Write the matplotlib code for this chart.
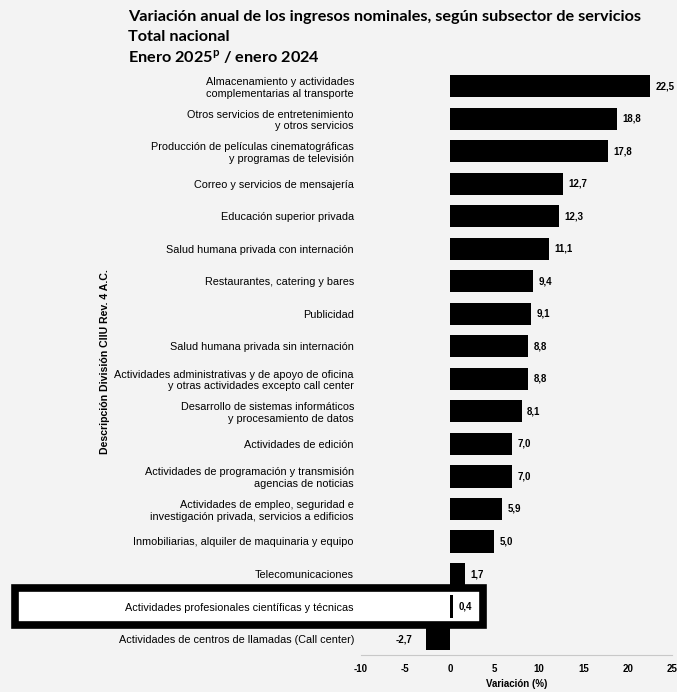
import matplotlib.pyplot as plt
import matplotlib.transforms as mtransforms
from matplotlib.patches import Rectangle
import numpy as np

plt.rcParams['font.family'] = ['Liberation Sans', 'DejaVu Sans']

# datos (de arriba hacia abajo)
categorias = [
    'Almacenamiento y actividades\ncomplementarias al transporte',
    'Otros servicios de entretenimiento\ny otros servicios',
    'Producción de películas cinematográficas\ny programas de televisión',
    'Correo y servicios de mensajería',
    'Educación superior privada',
    'Salud humana privada con internación',
    'Restaurantes, catering y bares',
    'Publicidad',
    'Salud humana privada sin internación',
    'Actividades administrativas y de apoyo de oficina\ny otras actividades excepto call center',
    'Desarrollo de sistemas informáticos\ny procesamiento de datos',
    'Actividades de edición',
    'Actividades de programación y transmisión\nagencias de noticias',
    'Actividades de empleo, seguridad e\ninvestigación privada, servicios a edificios',
    'Inmobiliarias, alquiler de maquinaria y equipo',
    'Telecomunicaciones',
    'Actividades profesionales científicas y técnicas',
    'Actividades de centros de llamadas (Call center)',
]
variacion = [22.5, 18.8, 17.8, 12.7, 12.3, 11.1, 9.4, 9.1, 8.8, 8.8, 8.1,
             7.0, 7.0, 5.9, 5.0, 1.7, 0.4, -2.7]
xticks = [-10, -5, 0, 5, 10, 15, 20, 25]
destacada = 'Actividades profesionales científicas y técnicas'

bg = '#f3f3f3'
fig = plt.figure(figsize=(6.77, 6.92), dpi=100, facecolor=bg)
ax = fig.add_axes([0.533, 0.053, 0.460, 0.846], facecolor=bg)

y = np.arange(len(categorias))
ax.barh(y, variacion, height=0.68, color='black', zorder=3)
ax.set_ylim(len(categorias) - 0.5, -0.5)
ax.set_xlim(-10, 25)

for yi, v in zip(y, variacion):
    txt = f'{v:.1f}'.replace('.', ',')
    if v >= 0:
        ax.text(v + 0.6, yi, txt, va='center', ha='left', fontsize=7,
                fontweight='bold', zorder=5)
    else:
        ax.text(v - 1.5, yi, txt, va='center', ha='right', fontsize=7,
                fontweight='bold', zorder=5)

ax.set_yticks(y)
ax.set_yticklabels(categorias, fontsize=7.8, multialignment='right')
ax.tick_params(axis='y', length=0, pad=5)
ax.set_xticks(xticks)
ax.set_xticklabels([str(t) for t in xticks], fontsize=7, fontweight='bold')
ax.tick_params(axis='x', length=0, pad=6)
ax.set_xlabel('Variación (%)', fontsize=7, fontweight='bold', labelpad=4)

for s in ['top', 'right', 'left']:
    ax.spines[s].set_visible(False)
ax.spines['bottom'].set_color('#c8c8c8')
ax.spines['bottom'].set_linewidth(0.8)

fig.text(0.155, 0.477, 'Descripción División CIIU Rev. 4 A.C.', rotation=90,
         fontsize=7.6, fontweight='bold', ha='center', va='center')

# recuadro de la fila destacada
idx = categorias.index(destacada)
trans = mtransforms.blended_transform_factory(fig.transFigure, ax.transData)
rect = Rectangle((0.022, idx - 0.58), 0.692, 1.16, transform=trans,
                 facecolor='white', edgecolor='black', linewidth=5.5,
                 clip_on=False, zorder=1)
fig.add_artist(rect)
ax.set_zorder(2)
ax.patch.set_alpha(0)

# titulo
tfont = ['Lato', 'DejaVu Sans']
fig.text(0.189, 0.975, 'Variación anual de los ingresos nominales, según subsector de servicios',
         fontsize=11.7, fontweight='bold', family=tfont, va='center')
fig.text(0.189, 0.946, 'Total nacional', fontsize=11.7, fontweight='bold',
         family=tfont, va='center')
fig.text(0.189, 0.917, 'Enero 2025$^{\\mathregular{p}}$ / enero 2024', fontsize=11.7,
         fontweight='bold', family=tfont, va='center')

fig.savefig('out.png', dpi=100, facecolor=bg)
